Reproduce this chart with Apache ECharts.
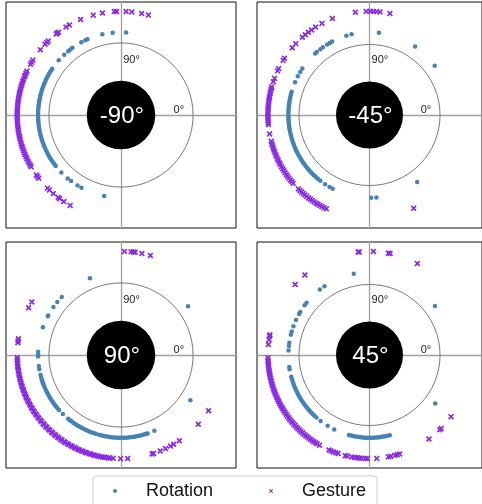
<!DOCTYPE html>
<html>
<head>
<meta charset="utf-8">
<script src="https://cdn.jsdelivr.net/npm/echarts@6/dist/echarts.min.js"></script>
<style>
  html, body { margin: 0; padding: 0; background: #fff; }
  #main { width: 482px; height: 504px; }
</style>
</head>
<body>
<div id="main"></div>
<script>
// panel titles (angle shown in the black disc)
const panelTitles = ["-90°", "-45°", "90°", "45°"];

// radius of each ring, in units of the gray reference circle
const rotationRadius = 1.15;
const gestureRadius = 1.44;

// angles (degrees, counter-clockwise from +x)
const rotationA = [86.5, 95.8, 103, 113.9, 115.5, 118.6, 125.8, 127.7, 129.5, 133.2, 138.7,
  146, 147.5, 149.2, 150.6, 152.3, 153.7, 155, 156.6, 158, 159.4, 161, 162.3, 163.9, 165.4, 166.8,
  168.3, 169.7, 171.2, 172.8, 174, 175.6, 177.1, 178.5, 180, 181.4, 183, 184.4, 185.8, 187.4, 188.9,
  190.3, 191.8, 193.2, 194.7, 196.1, 197.6, 199, 200.6, 202, 203.4, 205, 206.4, 207.9, 209.4,
  210.8, 212.3, 213.7, 215.3, 216.6, 218, 224, 230, 233, 238.4, 241.5, 258.3];
const gestureA = [74.7, 78.5, 84, 87.2, 92.4, 93.7, 100.3, 105.5, 112.9, 119.8, 122, 127, 127.8, 128.6,
  134.5, 135.6, 137, 141, 148, 149.4, 150.7, 155, 156.2, 157.5, 158.4, 159.8, 161, 162.3, 163.5, 164.6,
  165.9, 167.2, 168.3, 169.6, 171, 172.2, 173.4, 174.8, 176, 177.3, 178.5, 179.7, 181, 182.2, 183.5,
  184.8, 186, 187.4, 188.5, 189.8, 191.2, 192.4, 193.6, 195, 196.2, 197.5, 198.7, 200, 201.3, 202.5,
  203.8, 205, 206.4, 207.6, 208.9, 210, 215.3, 216.4, 217.6, 224.9, 226.4, 229.3, 232.8, 233.8,
  236.6, 240.7];

const rotationB = [36.5, 55.8, 83.3, 102.8, 106.6, 117.5, 119.4, 121.5, 125.1, 127.3, 130.5, 132.1,
  145.9, 148.6, 152.1, 156.6, 163.7, 165.2, 166.8, 168.1, 169.6, 171.2, 172.5, 174, 175.6, 177,
  178.4, 180, 181.5, 182.9, 184.3, 185.9, 187.4, 188.8, 190.1, 191.7, 193.2, 194.6, 196, 197.5, 199,
  200.4, 201.9, 203.3, 204.8, 206.2, 207.6, 209.1, 210.5, 212, 213.4, 214.9, 216.3, 217.7, 219.2,
  220.6, 222, 223.5, 225, 226.4, 227.8, 229.3, 230.8, 232.7, 236.8, 240.5, 243, 271.2, 274.9, 306];
const gestureB = [78.4, 84, 85.9, 87.8, 89.6, 91.9, 98, 111.4, 117.9, 122, 124.8, 127, 129.2, 131.4,
  136.5, 139.5, 146.8, 148.2, 153.4, 154.8, 159.3, 161.3, 164.3, 165.5, 166.8, 168, 169.3, 170.5,
  171.8, 173, 174.4, 175.6, 176.8, 178.1, 179.3, 180.6, 181.8, 183.1, 184.3, 185.3, 190.5, 194.6,
  196, 197.3, 198.5, 199.8, 201, 202.4, 203.6, 204.9, 206.1, 207.4, 208.6, 209.9, 211.2, 212.4,
  213.7, 215, 216.2, 217.5, 218.8, 220, 221.2, 225.5, 226.8, 228, 229.3, 230.5, 231.8, 233.2,
  234.4, 235.7, 237, 238.3, 239.5, 240.8, 242.1, 243.5, 244.9, 295.8];

const rotationC = [36, 112, 135.6, 140.2, 144.6, 151.4, 152, 160.4, 177.7, 179.5, 181.1, 187.6, 189.9,
  194, 195.5, 197, 198.4, 199.9, 201.3, 202.8, 204.2, 205.7, 207.1, 208.6, 210, 211.5, 212.9,
  214.4, 215.8, 217.3, 218.7, 220.2, 221.7, 225.5, 230.4, 231.9, 233.3, 234.8, 236.2, 237.7, 239.1,
  240.6, 242, 243.5, 244.9, 246.4, 247.8, 249.3, 250.7, 252.2, 254.6, 256, 257.5, 258.9, 260.4,
  261.8, 263.3, 264.7, 266.2, 267.6, 269.1, 270.5, 272, 273.4, 274.9, 276.3, 277.8, 279.2, 280.7,
  282.1, 283.6, 285, 286.5, 287.9, 288.7, 293.7, 326.8];
const gestureC = [73.6, 78.4, 82.2, 83.1, 84.4, 88.1, 149.2, 152.9, 171, 172.3, 173.2,
  181.5, 182.6, 183.9, 184.8, 186.1, 187, 188.3, 189.2, 190.5, 191.4, 192.7, 193.6, 194.9, 195.8,
  197.1, 198, 199.3, 200.2, 201.5, 202.4, 203.7, 204.6, 205.9, 206.8, 208.1, 209, 210.3, 211.2,
  212.5, 213.4, 214.7, 215.6, 216.9, 217.8, 219.1, 220, 221.3, 222.2, 223.5, 224.4, 225.7, 226.6,
  227.9, 228.8, 230.1, 231, 232.3, 233.2, 234.5, 235.4, 236.7, 237.6, 238.9, 239.8, 241.1, 242,
  243.3, 244.2, 245.5, 246.4, 247.7, 248.6, 249.9, 250.8, 252.1, 253, 254.3, 255.2, 256.5, 257.4,
  258.7, 259.6, 260.9, 261.8, 263.1, 264, 265.7, 269.8, 273.7, 287.4, 288.3, 292.2, 295.4, 298.5,
  300.5, 304.2, 318.1, 327.5];

const rotationD = [36.2, 101.2, 123.7, 127.8, 140.9, 143.1, 148.6, 150.4, 154.9, 159.7, 163.5, 165.9,
  171.5, 173.8, 176.8, 188.3, 189.9, 195.2, 196.7, 198.1, 199.6, 201, 202.5, 204, 205.4, 206.9,
  208.3, 209.8, 211.2, 212.7, 214.2, 215.6, 217.1, 218.5, 220, 221.4, 222.9, 224.3, 225.8, 227.2,
  229.1, 232.9, 238.9, 244.2, 255.3, 256.8, 258.2, 259.6, 261.1, 262.5, 264, 265.4, 266.9, 268.3,
  269.8, 271.2, 272.7, 274.1, 275.6, 277, 278.5, 279.9, 281.4, 282.8, 284.5, 324.1];
const gestureD = [61.9, 78.3, 79.3, 87.8, 95.8, 96.4, 129.5, 137.1, 168.7, 169.6, 171.5, 174.2,
  181.5, 182.7, 183.8, 185, 186.1, 187.3, 188.4, 189.6, 190.7, 191.9, 193, 194.2, 195.3, 196.5,
  197.6, 198.8, 199.9, 201.1, 202.2, 203.4, 204.5, 205.7, 206.8, 208, 209.1, 210.3, 211.4, 212.6,
  213.7, 214.9, 216, 217.2, 218.3, 219.5, 220.6, 221.8, 222.9, 224.1, 225.2, 226.4, 227.5, 228.7,
  229.8, 231, 232.1, 233.3, 234.4, 235.6, 236.7, 237.9, 239, 240.5, 246.5, 247.8, 249.2, 250.6,
  252, 256.2, 257.3, 260, 261.5, 263, 264.2, 265.5, 267.6, 268.8, 274.1, 280.7, 282, 284.5, 285.8,
  287.3, 305.8, 313.8, 314.9, 323.4];

const rotationSets = [rotationA, rotationB, rotationC, rotationD];
const gestureSets = [gestureA, gestureB, gestureC, gestureD];

// panel boxes (pixels)
const panelBoxes = [
  { left: 6, top: 2 },
  { left: 257, top: 2 },
  { left: 6, top: 242 },
  { left: 257, top: 242 }
];

const toXY = (angles, r) => angles.map((a) => {
  const t = a * Math.PI / 180;
  return [r * Math.cos(t), r * Math.sin(t)];
});

// thick "x" marker
const xCross = 'path://M0,2L2,0L5,3L8,0L10,2L7,5L10,8L8,10L5,7L2,10L0,8L3,5Z';
const fontName = '"Liberation Sans", Arial, sans-serif';

const grids = [], xAxes = [], yAxes = [], series = [];
panelBoxes.forEach((box, i) => {
  grids.push({
    left: box.left, top: box.top, width: 230, height: 226,
    show: true, borderColor: '#111', borderWidth: 1, backgroundColor: '#fff'
  });
  const axisBase = {
    gridIndex: i, type: 'value',
    axisLabel: { show: false }, axisTick: { show: false }, splitLine: { show: false },
    axisLine: { show: true, onZero: true, lineStyle: { color: '#a0a0a0', width: 1.3 } }
  };
  xAxes.push(Object.assign({ min: -1.595, max: 1.595 }, axisBase));
  yAxes.push(Object.assign({ min: -1.57, max: 1.57 }, axisBase));

  // reference circle + black disc with title
  series.push({
    type: 'custom', xAxisIndex: i, yAxisIndex: i, silent: true, z: 1,
    data: [[0, 0]],
    renderItem: (params, api) => {
      const c = api.coord([0, 0]);
      const unit = api.size([1, 1]);
      const p90 = api.coord([0.03, 0.765]);
      const p0 = api.coord([0.875, 0.075]);
      return {
        type: 'group',
        children: [
          { type: 'circle', shape: { cx: c[0], cy: c[1], r: unit[0] },
            style: { fill: null, stroke: '#7a7a7a', lineWidth: 1 } },
          { type: 'text', x: p90[0], y: p90[1],
            style: { text: '90°', fill: '#222', font: '11px ' + fontName, align: 'left', verticalAlign: 'middle' } },
          { type: 'text', x: p0[0], y: p0[1],
            style: { text: '0°', fill: '#222', font: '11px ' + fontName, align: 'right', verticalAlign: 'middle' } },
          { type: 'circle', shape: { cx: c[0], cy: c[1], r: unit[0] * 0.475 },
            style: { fill: '#000' } },
          { type: 'text', x: c[0] + 1, y: c[1] + 1,
            style: { text: panelTitles[i], fill: '#fff', font: '24px ' + fontName, align: 'center', verticalAlign: 'middle' } }
        ]
      };
    }
  });
  series.push({
    name: 'Rotation', type: 'scatter', xAxisIndex: i, yAxisIndex: i, z: 3,
    symbol: 'circle', symbolSize: 4.5, itemStyle: { color: '#4682b4', opacity: 1 },
    data: toXY(rotationSets[i], rotationRadius)
  });
  series.push({
    name: 'Gesture', type: 'scatter', xAxisIndex: i, yAxisIndex: i, z: 3,
    symbol: xCross, symbolSize: 6, itemStyle: { color: '#8a2be2', opacity: 1 },
    data: toXY(gestureSets[i], gestureRadius)
  });
});

const chart = echarts.init(document.getElementById('main'), null, { renderer: 'canvas' });
chart.setOption({
  animation: false,
  backgroundColor: '#fff',
  grid: grids,
  xAxis: xAxes,
  yAxis: yAxes,
  legend: {
    data: [
      { name: 'Rotation', icon: 'circle', itemStyle: { color: '#4682b4' } },
      { name: 'Gesture', icon: xCross, itemStyle: { color: '#8a2be2' } }
    ],
    left: 93, top: 476,
    itemWidth: 8, itemHeight: 4,
    itemGap: 56,
    padding: [6, 11, 10, 20],
    borderColor: '#cfcfcf', borderWidth: 1, borderRadius: 3,
    backgroundColor: '#fff',
    textStyle: { fontSize: 18, fontFamily: fontName, color: '#111', padding: [0, 0, 0, 22] }
  },
  series: series
});
</script>
</body>
</html>
